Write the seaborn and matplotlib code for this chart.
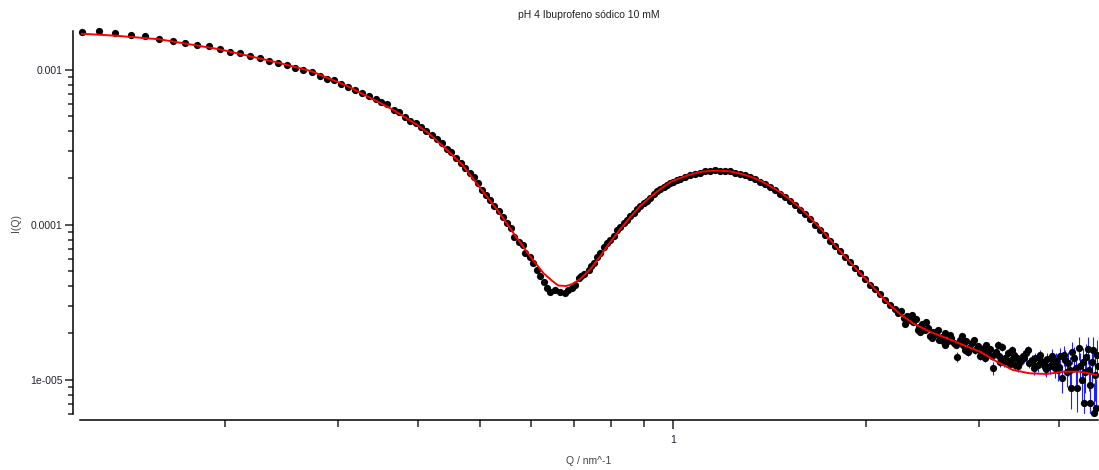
import matplotlib
matplotlib.use("Agg")
import matplotlib.pyplot as plt
import matplotlib.ticker as mticker
import seaborn as sns

# measured SAXS curve (Q in nm^-1, I in a.u.)
q_data = [0.1197, 0.1272, 0.1350, 0.1429, 0.1503, 0.1582, 0.1660, 0.1733, 0.1814, 0.1891,
          0.1965, 0.2042, 0.2116, 0.2194, 0.2273, 0.2348, 0.2421, 0.2498, 0.2574, 0.2649,
          0.2733, 0.2813, 0.2887, 0.2960, 0.3040, 0.3117, 0.3196, 0.3273, 0.3356, 0.3438,
          0.3512, 0.3584, 0.3671, 0.3737, 0.3818, 0.3898, 0.3969, 0.4051, 0.4124, 0.4207,
          0.4289, 0.4367, 0.4446, 0.4515, 0.4597, 0.4675, 0.4748, 0.4822, 0.4891, 0.4961,
          0.5033, 0.5118, 0.5192, 0.5267, 0.5349, 0.5435, 0.5513, 0.5594, 0.5660, 0.5748,
          0.5831, 0.5888, 0.5979, 0.6053, 0.6141, 0.6213, 0.6287, 0.6364, 0.6440, 0.6557,
          0.6675, 0.6795, 0.6869, 0.6960, 0.7043, 0.7129, 0.7198, 0.7275, 0.7389, 0.7460,
          0.7541, 0.7623, 0.7706, 0.7797, 0.7887, 0.7986, 0.8088, 0.8189, 0.8278, 0.8377,
          0.8479, 0.8581, 0.8681, 0.8788, 0.8894, 0.9000, 0.9111, 0.9219, 0.9328, 0.9443,
          0.9555, 0.9669, 0.9787, 0.9904, 1.0020, 1.0144, 1.0266, 1.0452, 1.0640, 1.0832,
          1.1028, 1.1228, 1.1431, 1.1638, 1.1849, 1.2063, 1.2282, 1.2503, 1.2730, 1.2960,
          1.3195, 1.3434, 1.3677, 1.3924, 1.4176, 1.4431, 1.4693, 1.4959, 1.5230, 1.5505,
          1.5786, 1.6072, 1.6363, 1.6659, 1.6958, 1.7265, 1.7579, 1.7897, 1.8221, 1.8551,
          1.8887, 1.9231, 1.9572, 1.9927, 2.0288, 2.0655, 2.1029, 2.1410, 2.1798, 2.2193]
i_data = [1.738e-3, 1.764e-3, 1.712e-3, 1.677e-3, 1.637e-3, 1.573e-3, 1.534e-3, 1.489e-3, 1.445e-3, 1.411e-3,
          1.356e-3, 1.302e-3, 1.272e-3, 1.227e-3, 1.181e-3, 1.140e-3, 1.101e-3, 1.064e-3, 1.023e-3, 9.97e-4,
          9.64e-4, 9.04e-4, 8.72e-4, 8.52e-4, 8.10e-4, 7.71e-4, 7.37e-4, 7.02e-4, 6.75e-4, 6.45e-4,
          6.20e-4, 5.96e-4, 5.50e-4, 5.30e-4, 4.96e-4, 4.67e-4, 4.50e-4, 4.28e-4, 3.99e-4, 3.80e-4,
          3.55e-4, 3.34e-4, 3.07e-4, 2.92e-4, 2.67e-4, 2.48e-4, 2.30e-4, 2.16e-4, 2.02e-4, 1.86e-4,
          1.67e-4, 1.55e-4, 1.44e-4, 1.32e-4, 1.22e-4, 1.11e-4, 1.03e-4, 9.45e-5, 8.34e-5, 7.74e-5,
          7.37e-5, 6.58e-5, 6.20e-5, 5.62e-5, 5.09e-5, 4.67e-5, 4.28e-5, 3.88e-5, 3.69e-5, 3.78e-5,
          3.65e-5, 3.63e-5, 3.78e-5, 3.88e-5, 4.07e-5, 4.50e-5, 4.65e-5, 4.79e-5, 5.09e-5, 5.40e-5,
          5.64e-5, 6.17e-5, 6.55e-5, 7.16e-5, 7.60e-5, 7.94e-5, 8.43e-5, 9.21e-5, 9.63e-5, 1.023e-4,
          1.077e-4, 1.134e-4, 1.195e-4, 1.268e-4, 1.326e-4, 1.376e-4, 1.428e-4, 1.493e-4, 1.573e-4, 1.633e-4,
          1.687e-4, 1.746e-4, 1.798e-4, 1.839e-4, 1.894e-4, 1.923e-4, 1.966e-4, 2.040e-4, 2.087e-4, 2.133e-4,
          2.165e-4, 2.198e-4, 2.214e-4, 2.231e-4, 2.214e-4, 2.214e-4, 2.198e-4, 2.165e-4, 2.133e-4, 2.087e-4,
          2.025e-4, 1.966e-4, 1.894e-4, 1.825e-4, 1.746e-4, 1.670e-4, 1.585e-4, 1.504e-4, 1.417e-4, 1.336e-4,
          1.249e-4, 1.168e-4, 1.085e-4, 1.000e-4, 9.28e-5, 8.56e-5, 7.88e-5, 7.27e-5, 6.70e-5, 6.17e-5,
          5.69e-5, 5.24e-5, 4.83e-5, 4.45e-5, 4.10e-5, 3.81e-5, 3.54e-5, 3.26e-5, 3.02e-5, 2.85e-5]

# noisy high-Q tail, with its error bars
q_tail = [2.243, 2.268, 2.293, 2.317, 2.342, 2.368, 2.393, 2.419, 2.445, 2.472,
          2.499, 2.517, 2.544, 2.572, 2.600, 2.628, 2.656, 2.685, 2.714, 2.744,
          2.773, 2.803, 2.834, 2.864, 2.895, 2.927, 2.958, 2.990, 3.023, 3.055,
          3.089, 3.121, 3.155, 3.189, 3.224, 3.258, 3.294, 3.329, 3.365, 3.401,
          3.438, 3.475, 3.512, 3.550, 3.589, 3.628, 3.667, 3.707, 3.747, 3.788,
          3.828, 3.870, 3.912, 3.954, 3.997, 4.041, 4.084, 4.128, 4.173, 4.218,
          4.264, 4.295, 4.310, 4.341, 4.372, 4.404, 4.436, 4.467, 4.499, 4.532,
          4.564, 4.581, 3.235, 3.414, 3.667, 3.940, 4.012, 4.158, 4.387, 4.467,
          4.548, 2.854, 2.656, 3.066, 3.353, 3.802, 2.428,
          2.301, 2.359, 2.410, 2.481, 2.535, 2.590, 2.646, 2.704, 2.763, 2.822,
          2.884, 2.947, 3.011, 3.076, 3.144, 3.212, 3.281, 3.377, 3.451, 3.525,
          3.576, 3.654, 3.733, 3.814, 3.897, 3.983, 4.069, 4.113, 4.188, 4.249,
          4.356, 4.451, 4.516, 4.598]
i_tail = [2.685e-5, 2.766e-5, 2.494e-5, 2.569e-5, 2.421e-5, 2.350e-5, 2.457e-5, 2.181e-5, 2.281e-5, 2.086e-5,
          2.149e-5, 1.908e-5, 2.025e-5, 1.965e-5, 1.798e-5, 1.880e-5, 1.995e-5, 1.772e-5, 1.852e-5, 1.720e-5,
          1.397e-5, 1.798e-5, 1.670e-5, 1.772e-5, 1.597e-5, 1.720e-5, 1.550e-5, 1.645e-5, 1.504e-5, 1.597e-5,
          1.483e-5, 1.573e-5, 1.186e-5, 1.504e-5, 1.418e-5, 1.621e-5, 1.376e-5, 1.483e-5, 1.336e-5, 1.439e-5,
          1.376e-5, 1.297e-5, 1.418e-5, 1.483e-5, 1.278e-5, 1.336e-5, 1.376e-5, 1.240e-5, 1.316e-5, 1.259e-5,
          1.356e-5, 1.222e-5, 1.297e-5, 1.316e-5, 1.204e-5, 1.023e-5, 1.336e-5, 1.278e-5, 8.81e-6, 1.376e-5,
          8.81e-6, 1.597e-5, 1.222e-5, 9.93e-6, 7.05e-6, 1.397e-5, 1.573e-5, 7.05e-6, 1.297e-5, 6.08e-6,
          6.55e-6, 1.439e-5, 1.297e-5, 1.240e-5, 1.222e-5, 1.186e-5, 1.418e-5, 1.152e-5, 1.118e-5, 9.21e-6,
          1.069e-5, 1.550e-5, 1.670e-5, 1.376e-5, 1.259e-5, 1.204e-5, 2.025e-5,
          2.281e-5, 2.607e-5, 2.086e-5, 2.350e-5, 1.852e-5, 2.086e-5, 1.746e-5, 1.937e-5, 1.670e-5, 1.908e-5,
          1.504e-5, 1.798e-5, 1.418e-5, 1.670e-5, 1.418e-5, 1.670e-5, 1.297e-5, 1.550e-5, 1.222e-5, 1.376e-5,
          1.550e-5, 1.186e-5, 1.439e-5, 1.169e-5, 1.418e-5, 1.152e-5, 1.439e-5, 1.118e-5, 1.504e-5, 1.186e-5,
          1.297e-5, 1.152e-5, 1.550e-5, 1.222e-5]
err_tail = [8e-7, 8e-7, 8e-7, 8e-7, 8e-7, 8e-7, 8e-7, 8e-7, 8e-7, 8e-7,
            8e-7, 8e-7, 8e-7, 8e-7, 8e-7, 8e-7, 8e-7, 8e-7, 8e-7, 8e-7,
            1.0e-6, 8e-7, 8e-7, 8e-7, 8e-7, 8e-7, 8e-7, 8e-7, 8e-7, 8e-7,
            8e-7, 8e-7, 1.2e-6, 9e-7, 9e-7, 9e-7, 9e-7, 9e-7, 9e-7, 9e-7,
            9e-7, 1.0e-6, 1.0e-6, 1.0e-6, 1.0e-6, 1.1e-6, 1.1e-6, 1.2e-6, 1.2e-6, 1.3e-6,
            1.3e-6, 1.4e-6, 1.5e-6, 1.6e-6, 1.8e-6, 2.0e-6, 2.2e-6, 2.3e-6, 2.4e-6, 2.5e-6,
            2.6e-6, 2.7e-6, 2.7e-6, 2.8e-6, 2.9e-6, 3.0e-6, 3.1e-6, 3.2e-6, 3.3e-6, 3.4e-6,
            3.5e-6, 3.5e-6, 9e-7, 9e-7, 1.1e-6, 1.6e-6, 1.9e-6, 2.4e-6, 3.0e-6, 3.2e-6,
            3.4e-6, 8e-7, 8e-7, 8e-7, 9e-7, 1.3e-6, 8e-7,
            8e-7, 8e-7, 8e-7, 8e-7, 8e-7, 8e-7, 8e-7, 8e-7, 8e-7, 8e-7,
            8e-7, 8e-7, 8e-7, 8e-7, 9e-7, 9e-7, 9e-7, 9e-7, 1.0e-6, 1.0e-6,
            1.0e-6, 1.1e-6, 1.2e-6, 1.3e-6, 1.5e-6, 1.8e-6, 2.1e-6, 2.3e-6, 2.4e-6, 2.6e-6,
            2.9e-6, 3.1e-6, 3.3e-6, 3.5e-6]

# model fit
q_fit = [0.1197, 0.1353, 0.1584, 0.1965, 0.2427, 0.2733, 0.3109, 0.3627, 0.3998, 0.4188,
         0.4387, 0.4697, 0.5010, 0.5324, 0.5640, 0.5994, 0.6281, 0.6486, 0.6627, 0.6820,
         0.6968, 0.7172, 0.7434, 0.7706, 0.7986, 0.8278, 0.8581, 0.8894, 0.9219, 0.9555,
         0.9904, 1.0266, 1.0640, 1.1028, 1.1431, 1.1849, 1.2282, 1.2730, 1.3195, 1.3677,
         1.4176, 1.4693, 1.5230, 1.5786, 1.6363, 1.6958, 1.7579, 1.8221, 1.8887, 1.9572,
         2.0288, 2.1029, 2.1798, 2.260, 2.368, 2.517, 2.675, 2.834, 3.012, 3.200,
         3.389, 3.602, 3.828, 4.055, 4.310, 4.581]
i_fit = [1.702e-3, 1.652e-3, 1.566e-3, 1.350e-3, 1.106e-3, 9.74e-4, 7.82e-4, 5.62e-4, 4.38e-4, 3.78e-4,
         3.18e-4, 2.42e-4, 1.713e-4, 1.240e-4, 8.81e-5, 6.20e-5, 4.86e-5, 4.32e-5, 4.04e-5, 4.01e-5,
         4.13e-5, 4.45e-5, 5.16e-5, 6.26e-5, 7.71e-5, 9.35e-5, 1.118e-4, 1.316e-4, 1.504e-4, 1.694e-4,
         1.880e-4, 1.995e-4, 2.102e-4, 2.182e-4, 2.221e-4, 2.225e-4, 2.198e-4, 2.133e-4, 2.040e-4, 1.923e-4,
         1.772e-4, 1.621e-4, 1.449e-4, 1.278e-4, 1.110e-4, 9.49e-5, 8.00e-5, 6.75e-5, 5.73e-5, 4.86e-5,
         4.16e-5, 3.51e-5, 3.02e-5, 2.646e-5, 2.305e-5, 2.034e-5, 1.844e-5, 1.670e-5, 1.511e-5, 1.302e-5,
         1.152e-5, 1.096e-5, 1.085e-5, 1.123e-5, 1.123e-5, 1.069e-5]

title = "pH 4 Ibuprofeno sódico 10 mM"

sns.set_style("ticks")
plt.rcParams['font.family'] = ['Liberation Sans', 'DejaVu Sans']

fig = plt.figure(figsize=(10.99, 4.70), dpi=100)
ax = fig.add_axes([80 / 1099, 1 - 414 / 470, 1018 / 1099, 383 / 470])
ax.set_xscale('log')
ax.set_yscale('log')

ax.errorbar(q_tail, i_tail, yerr=err_tail, fmt='none', ecolor='#2020ff',
            elinewidth=0.8, capsize=0, zorder=1)
sns.scatterplot(x=q_data + q_tail, y=i_data + i_tail, color='black', s=27,
                linewidth=0, ax=ax, zorder=2, clip_on=False)
sns.lineplot(x=q_fit, y=i_fit, color='red', linewidth=1.4, sort=False,
             estimator=None, ax=ax, zorder=3)

ax.set_xlim(0.119, 4.60)
ax.set_ylim(5.99e-6, 1.772e-3)

ax.xaxis.set_major_locator(mticker.FixedLocator([1]))
ax.xaxis.set_major_formatter(mticker.FixedFormatter(['1']))
ax.xaxis.set_minor_locator(mticker.LogLocator(base=10, subs=[2, 3, 4, 5, 6, 7, 8, 9]))
ax.xaxis.set_minor_formatter(mticker.NullFormatter())
ax.yaxis.set_major_locator(mticker.FixedLocator([1e-5, 1e-4, 1e-3]))
ax.yaxis.set_major_formatter(mticker.FixedFormatter(['1e-005', '0.0001', '0.001']))
ax.yaxis.set_minor_locator(mticker.LogLocator(base=10, subs=[2, 3, 4, 5, 6, 7, 8, 9]))
ax.yaxis.set_minor_formatter(mticker.NullFormatter())

ax.tick_params(axis='x', which='major', length=6.5, width=1.1, labelsize=7.5, pad=4, labelcolor='#222233')
ax.tick_params(axis='x', which='minor', length=5, width=1.1)
ax.tick_params(axis='y', which='major', length=5.8, width=1.1, labelsize=7.5, pad=2, labelcolor='#222233')
ax.tick_params(axis='y', which='minor', length=3.6, width=1.1)

sns.despine(ax=ax, offset={'left': 5, 'bottom': 4.5})
for side in ['left', 'bottom']:
    ax.spines[side].set_linewidth(1.1)
    ax.spines[side].set_color('black')

ax.set_title(title, fontsize=7.5, pad=9, color='#222222')
ax.set_ylabel('I(Q)', fontsize=7.5, color='#444444', labelpad=6)
ax.set_xlabel('Q / nm^-1', fontsize=7.5, color='#444444')
ax.xaxis.set_label_coords(0.5, -0.11)

fig.savefig('out.png', dpi=100)
